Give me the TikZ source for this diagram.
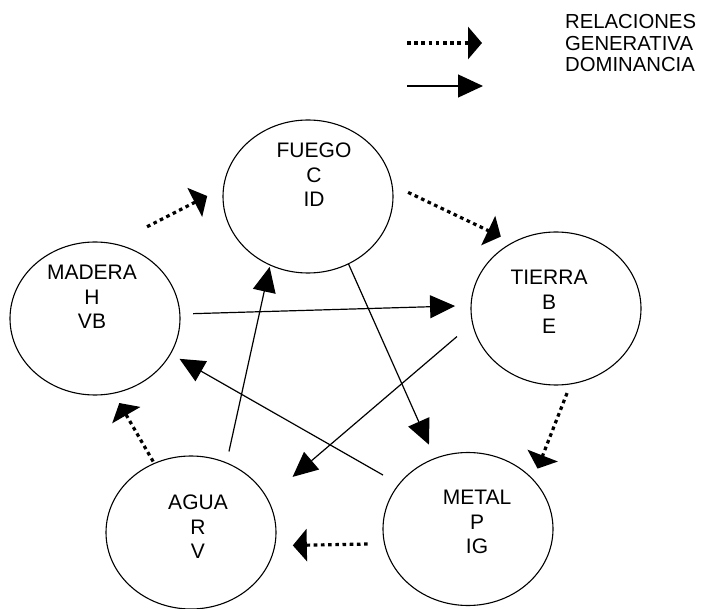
\documentclass[tikz,border=0pt]{standalone}
\usepackage{fontspec}
\setmainfont{Liberation Sans}
\usetikzlibrary{arrows.meta,shapes.geometric}
\begin{document}
\begin{tikzpicture}[x=1pt,y=-1pt,
  elem/.style={draw, ellipse, minimum width=170pt, minimum height=153pt,
    inner sep=0pt, outer sep=0pt, line width=1.1pt},
  elemtext/.style={align=center, inner sep=0pt,
    font=\fontsize{21}{24.5}\selectfont},
  legendtext/.style={align=left, inner sep=0pt, anchor=west,
    font=\fontsize{20.3}{21.5}\selectfont},
  dom/.style={line width=1.2pt, -{Triangle[length=25pt,width=23pt]}},
  gen/.style={line width=3.2pt, dash pattern=on 3.6pt off 3.6pt,
    -{Triangle[length=14pt,width=32pt]}},
]
\useasboundingbox (0,0) rectangle (707,609);

% the five elements
\node[elem] (fuego)  at (308,196.5) {};
\node[elem] (madera) at (95,318.5)  {};
\node[elem] (tierra) at (556,308.5) {};
\node[elem] (agua)   at (191,532.5) {};
\node[elem] (metal)  at (468,529)   {};

\node[elemtext] (fuegoT)  at (314,175) {FUEGO\\C\\ID};
\node[elemtext] (maderaT) at (92,297)  {MADERA\\H\\VB};
\node[elemtext] (tierraT) at (549,302) {TIERRA\\B\\E};
\node[elemtext] (aguaT)   at (198,527) {AGUA\\R\\V};
\node[elemtext] (metalT)  at (477,522) {METAL\\P\\IG};

% legend
\coordinate (lg1a) at (407,43);
\coordinate (lg1b) at (482,43);
\coordinate (lg2a) at (407,86);
\coordinate (lg2b) at (483,86);
\draw[gen] (lg1a) -- (lg1b);
\draw[dom] (lg2a) -- (lg2b);
\node[legendtext] (legend) at (565,43.5) {RELACIONES\\GENERATIVA\\DOMINANCIA};

% dominance cycle (solid)
\draw[dom, shorten <=13.2pt, shorten >=16pt]   (madera.3.5)   -- (tierra.178.7);
\draw[dom, shorten >=15.1pt]                    (fuego.301)    -- (metal.115.8);
\draw[dom, shorten <=20.5pt, shorten >=33.4pt] (tierra.190.4) -- (agua.24.9);
\draw[dom, shorten <=11.8pt, shorten >=2pt]    (agua.63.8)    -- (fuego.241.3);
\draw[dom, shorten <=18.5pt, shorten >=10.4pt] (metal.147)    -- (madera.335.7);

% generative cycle (dotted)
\draw[gen, shorten <=37.6pt, shorten >=18.4pt] (madera.76.2)  -- (fuego.174.8);
\draw[gen, shorten <=17.9pt, shorten >=13.6pt] (fuego.8.4)    -- (tierra.123.8);
\draw[gen, shorten <=9.9pt,  shorten >=12.1pt] (tierra.281)   -- (metal.37.7);
\draw[gen, shorten <=16.9pt, shorten >=18.1pt] (metal.190.9)  -- (agua.351.5);
\draw[gen, shorten <=2.3pt,  shorten >=11.4pt] (agua.118.95)  -- (madera.284.7);
\end{tikzpicture}
\end{document}
